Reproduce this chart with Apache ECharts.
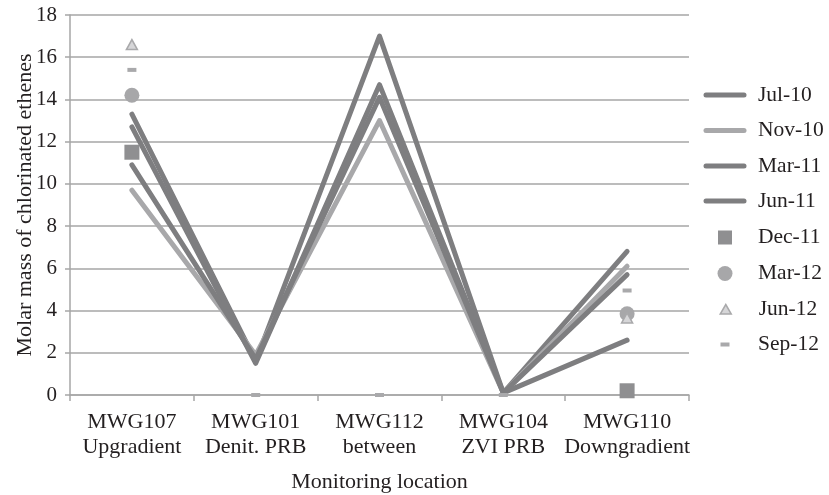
<!DOCTYPE html>
<html>
<head>
<meta charset="utf-8">
<script src="https://cdn.jsdelivr.net/npm/echarts@6/dist/echarts.min.js"></script>
<style>
html,body{margin:0;padding:0;background:#fff;}
#chart{width:829px;height:495px;}
</style>
</head>
<body>
<div id="chart"></div>
<script>
// ---- data ----
const categories = ['MWG107\nUpgradient', 'MWG101\nDenit. PRB', 'MWG112\nbetween', 'MWG104\nZVI PRB', 'MWG110\nDowngradient'];
const yTicks = { min: 0, max: 18, interval: 2 };
const lineNames = ['Jul-10', 'Nov-10', 'Mar-11', 'Jun-11'];
const jul10 = [13.3, 1.6, 17.0, 0.1, 6.8];
const nov10 = [9.7, 1.9, 13.0, 0.1, 6.1];
const mar11 = [12.7, 1.5, 14.7, 0.1, 5.7];
const jun11 = [10.9, 1.7, 14.1, 0.1, 2.6];
const markerNames = ['Dec-11', 'Mar-12', 'Jun-12', 'Sep-12'];
const dec11 = [11.5, '-', '-', '-', 0.2];
const mar12 = [14.2, '-', '-', '-', 3.85];
const jun12 = [16.6, '-', '-', '-', 3.65];
const sep12 = [15.4, 0, 0, 0, 4.95];

// ---- styles ----
const FONT = 'Liberation Serif';
const TXT = '#231f20';
const DARK = '#7e7e80';
const LIGHT = '#a8a8aa';
const GRID = '#a6a6a6';

const lineData = [jul10, nov10, mar11, jun11];
const lineColors = [DARK, LIGHT, DARK, DARK];
const markerData = [dec11, mar12, jun12, sep12];

const series = [];
lineNames.forEach((n, i) => {
  series.push({
    name: n, type: 'line', data: lineData[i], symbol: 'none',
    color: lineColors[i],
    itemStyle: { color: lineColors[i] },
    lineStyle: { color: lineColors[i], width: 5, cap: 'round', join: 'round' },
    z: 3, animation: false
  });
});
const markerStyles = [
  { symbol: 'rect', size: 15, color: '#8f8f91' },
  { symbol: 'circle', size: 15, color: '#a7a7a9' },
  { symbol: 'triangle', size: [11, 10], color: '#d6d6d8', border: '#a9a9ab', bw: 1.5 },
  { symbol: 'rect', size: [9, 4], color: '#a9a9ab' }
];
markerNames.forEach((n, i) => {
  const s = markerStyles[i];
  series.push({
    name: n, type: 'scatter', data: markerData[i],
    symbol: s.symbol, symbolSize: s.size,
    itemStyle: { color: s.color, borderColor: s.border || s.color, borderWidth: s.bw || 0, opacity: 1 },
    z: 4, animation: false
  });
});

// legend icons: bounding box 50x16 via move-to points
const BOX = 'M0,0 M50,16 ';
const lineIcon = 'path://' + BOX + 'M3,5.5 L41,5.5 A2.5,2.5 0 0 1 41,10.5 L3,10.5 A2.5,2.5 0 0 1 3,5.5 Z';
const markerIcons = [
  'path://' + BOX + 'M15,1 L29,1 L29,15 L15,15 Z',
  'path://' + BOX + 'M29.5,8 A7.5,7.5 0 1 1 14.5,8 A7.5,7.5 0 1 1 29.5,8 Z',
  'path://' + BOX + 'M22,3 L27.5,12.5 L16.5,12.5 Z',
  'path://' + BOX + 'M17.5,6 L26.5,6 L26.5,10 L17.5,10 Z'
];
const legendCenters = [92, 127.5, 163, 198, 234.5, 270.5, 306.5, 341.5];
const legends = [];
const allNames = lineNames.concat(markerNames);
allNames.forEach((n, i) => {
  let icon, itemStyle;
  if (i < 4) {
    icon = lineIcon;
    itemStyle = { color: lineColors[i], borderWidth: 0 };
  } else {
    const s = markerStyles[i - 4];
    icon = markerIcons[i - 4];
    itemStyle = { color: s.color, borderColor: s.border || s.color, borderWidth: s.bw || 0 };
  }
  legends.push({
    show: true, orient: 'vertical', left: 703, top: legendCenters[i] - 8,
    padding: 0, itemWidth: 50, itemHeight: 16, itemGap: 0,
    selectedMode: false,
    data: [{ name: n, icon: icon, itemStyle: itemStyle }],
    textStyle: { fontFamily: FONT, fontSize: 21.5, color: TXT }
  });
});

const chart = echarts.init(document.getElementById('chart'), null, { renderer: 'canvas' });
chart.setOption({
  backgroundColor: '#ffffff',
  animation: false,
  legend: legends,
  grid: { left: 70, right: 140, top: 15, bottom: 100, containLabel: false, outerBoundsMode: 'none' },
  xAxis: {
    type: 'category', data: categories, boundaryGap: true,
    name: 'Monitoring location', nameLocation: 'middle', nameGap: 76,
    nameMoveOverlap: false,
    nameTextStyle: { fontFamily: FONT, fontSize: 22, color: TXT },
    axisLine: { show: true, lineStyle: { color: GRID, width: 1.5 } },
    axisTick: { show: true, alignWithLabel: false, length: 6, lineStyle: { color: GRID, width: 1.5 } },
    axisLabel: { fontFamily: FONT, fontSize: 22, color: TXT, lineHeight: 25, margin: 15, interval: 0 },
    splitLine: { show: false }
  },
  yAxis: {
    type: 'value', min: yTicks.min, max: yTicks.max, interval: yTicks.interval,
    name: 'Molar mass of chlorinated ethenes', nameLocation: 'middle', nameGap: 34,
    nameMoveOverlap: false,
    nameTextStyle: { fontFamily: FONT, fontSize: 22, color: TXT },
    axisLine: { show: true, lineStyle: { color: GRID, width: 1.5 } },
    axisTick: { show: true, length: 5, lineStyle: { color: GRID, width: 1.5 } },
    axisLabel: { fontFamily: FONT, fontSize: 21, color: TXT, margin: 13 },
    splitLine: { show: true, lineStyle: { color: GRID, width: 1.5 } }
  },
  series: series
});
</script>
</body>
</html>
